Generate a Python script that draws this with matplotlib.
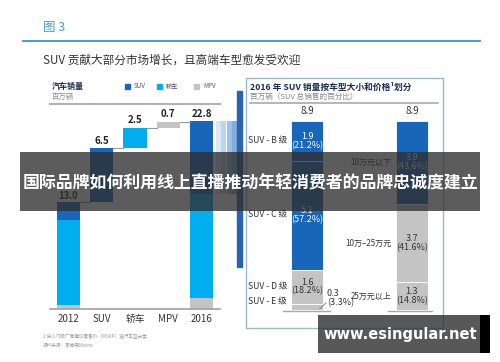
import matplotlib
matplotlib.use('Agg')
import matplotlib.pyplot as plt
from matplotlib.patches import Rectangle

plt.rcParams['font.family'] = ['Noto Sans CJK SC', 'DejaVu Sans']

# left waterfall: 汽车销量, 百万辆
categories = ['2012', 'SUV', '轿车', 'MPV', '2016']
seg_2012 = [2.2, 10.3, 0.5]      # SUV, 轿车, MPV
increments = [6.5, 2.5, 0.7]     # SUV, 轿车, MPV
seg_2016 = [8.9, 12.6, 1.3]
legend_names = ['SUV', '轿车', 'MPV']

# right panel: 2016 SUV split
size_labels = ['SUV - B 级', 'SUV - C 级', 'SUV - D 级', 'SUV - E 级']
size_values = [1.9, 5.1, 1.6, 0.3]
size_share = ['21.2%', '57.2%', '18.2%', '3.3%']
price_labels = ['10万元以下', '10万–25万元', '25万元以上']
price_values = [3.9, 3.7, 1.3]
price_share = ['43.6%', '41.6%', '14.8%']

BLUE = '#1766b9'
CYAN = '#00aeef'
GRAY = '#c4c4c4'
colors = [BLUE, CYAN, GRAY]

W, H = 500, 362
fig = plt.figure(figsize=(5, 3.62), dpi=100)

# ---- left waterfall
axL = fig.add_axes([50 / W, (H - 309) / H, 170 / W, 206 / H])
axL.set_xlim(-0.55, 4.55)
axL.set_ylim(0, 25)
bw = 0.7

def stack(ax, x, vals, cols):
    # bottom to top: MPV, 轿车, SUV
    b = 0
    for v, c in zip(vals[::-1], cols[::-1]):
        ax.bar(x, v, bw, bottom=b, color=c, linewidth=0)
        b += v
    return b

t12 = stack(axL, 0, seg_2012, colors)
axL.text(0, t12 + 0.15, f'{t12:.1f}', ha='center', va='bottom', fontsize=6.8, fontweight='bold', color='#222')
level = t12
levels = [level]
for i, (inc, c) in enumerate(zip(increments, colors)):
    axL.bar(i + 1, inc, bw, bottom=level, color=c, linewidth=0)
    axL.text(i + 1, level + inc + 0.3, f'{inc:.1f}', ha='center', va='bottom', fontsize=7, fontweight='bold', color='#222')
    level += inc
    levels.append(level)
t16 = stack(axL, 4, seg_2016, colors)
axL.text(4, t16 + 0.3, f'{t16:.1f}', ha='center', va='bottom', fontsize=7, fontweight='bold', color='#222')
for i, lv in enumerate(levels):
    axL.plot([i + bw / 2, i + 1 - bw / 2], [lv, lv], color='#9a9a9a', lw=0.8)

# stretched stripes next to the 2016 SUV part
stripe_cols = ['#dbe9f6', '#bcd5ef', '#9dc1e6', '#7faddc']
for k, sc in enumerate(stripe_cols):
    axL.bar(4.42 + k * 0.165, seg_2016[0], 0.15, bottom=t16 - seg_2016[0], color=sc,
            linewidth=0, align='edge', clip_on=False)

axL.set_xticks(range(5))
axL.set_xticklabels(categories, fontsize=7, color='#333')
axL.tick_params(length=0, pad=3.5)
axL.set_yticks([])
for s in ['top', 'left', 'right']:
    axL.spines[s].set_visible(False)
axL.spines['bottom'].set_color('#a0a0a0')
axL.spines['bottom'].set_linewidth(1.2)
axL.patch.set_alpha(0)

# ---- right panel
axR = fig.add_axes([246 / W, (H - 310) / H, 197 / W, 9.5 * 21.24 / H])
axR.set_xlim(-0.581, 1.295)
axR.set_ylim(0, 9.5)
axR.axis('off')
rw = 0.305

def split_bar(x, vals, cols):
    top = sum(vals)
    mids = []
    for v, c in zip(vals, cols):
        axR.bar(x, v, rw, bottom=top - v, color=c, edgecolor='white', linewidth=0.6)
        mids.append(top - v / 2)
        top -= v
    return mids

size_cols = [BLUE, BLUE, GRAY, GRAY]
mids = split_bar(0, size_values, size_cols)
for i, (lab, v, sh, m, c) in enumerate(zip(size_labels, size_values, size_share, mids, size_cols)):
    yl = m if i < 3 else m + 0.22
    axR.text(-0.562, yl, lab, ha='left', va='center', fontsize=6.2, color='#333')
    if i < 3:
        axR.text(0, m, f'{v}\n({sh})', ha='center', va='center', fontsize=6.5,
                 color='white' if c == BLUE else '#333', linespacing=1.0)
    else:
        axR.text(0.19, m + 0.4, f'{v}\n({sh})', ha='left', va='center', fontsize=6.5,
                 color='#333', linespacing=1.0)
        axR.plot([0.12, 0.18], [0.05, 0.33], color='#777', lw=0.6)
axR.text(0, sum(size_values) + 0.25, f'{sum(size_values):.1f}', ha='center', va='bottom', fontsize=7, color='#333')

price_cols = [BLUE, GRAY, GRAY]
mids = split_bar(1, price_values, price_cols)
for lab, v, sh, m, c in zip(price_labels, price_values, price_share, mids, price_cols):
    axR.text(0.8, m, lab, ha='right', va='center', fontsize=5.8, color='#333')
    axR.text(1, m, f'{v}\n({sh})', ha='center', va='center', fontsize=6.5,
             color='white' if c == BLUE else '#333', linespacing=1.0)
axR.text(1, sum(price_values) + 0.25, f'{sum(price_values):.1f}', ha='center', va='bottom', fontsize=7, color='#333')
axR.plot([-0.229, 0.219], [-0.03, -0.03], color='#a8a8a8', lw=1, clip_on=False)
axR.plot([0.771, 1.19], [-0.03, -0.03], color='#a8a8a8', lw=1, clip_on=False)

# ---- overlay: headers, frames, watermark
ov = fig.add_axes([0, 0, 1, 1], zorder=10)
ov.set_xlim(0, W)
ov.set_ylim(H, 0)
ov.axis('off')
ov.patch.set_alpha(0)

ov.text(43, 27, '图 3', fontsize=9, color='#4a9ac8', va='center')
ov.plot([23, 480], [41, 41], color='#3d93c4', lw=1.3)
ov.text(43, 60, 'SUV 贡献大部分市场增长，且高端车型愈发受欢迎', fontsize=8.4, color='#333', va='center')

ov.text(52, 87, '汽车销量', fontsize=5.8, fontweight='bold', color='#1b2d50', va='center')
ov.text(52, 97, '百万辆', fontsize=5.3, color='#888', va='center')
for xs, name, c in zip([125, 157, 194], legend_names, colors):
    ov.add_patch(Rectangle((xs, 84), 5, 5, color=c))
    ov.text(xs + 9, 86.5, name, fontsize=4.5, color='#555', va='center')
ov.plot([50, 220], [104, 104], color='#a9b3bc', lw=1.5)

ov.add_patch(Rectangle((237, 91), 5, 176, color='#2a63b0'))
ov.add_patch(Rectangle((246, 78), 197, 250, fill=False, edgecolor='#9bb8cc', lw=1))
ov.text(250, 87, '2016 年 SUV 销量按车型大小和价格¹划分', fontsize=6.3, fontweight='bold', color='#1b2d50', va='center')
ov.text(250, 97, '百万辆（SUV 总销售的百分比）', fontsize=5.5, color='#888', va='center')
ov.plot([250, 438], [103, 103], color='#a9b3bc', lw=1.3)

ov.text(43, 336, '1 按入门级厂商建议零售价（MSRP）进行车型分类', fontsize=3.3, color='#999', va='center')
ov.text(43, 345, '资料来源：麦肯锡Mview', fontsize=3.3, color='#999', va='center')

ov.add_patch(Rectangle((20, 152), 460, 59, color='#2e2e2e', alpha=0.78, lw=0))
ov.text(250, 183, '国际品牌如何利用线上直播推动年轻消费者的品牌忠诚度建立', fontsize=12.2,
        fontweight='bold', color='white', ha='center', va='center')

ov.add_patch(Rectangle((318, 315), 162, 38, color='#333333', alpha=0.82, lw=0))
ov.add_patch(Rectangle((480, 315), 10, 38, color='black', lw=0))
ov.text(400, 335, 'www.esingular.net', fontsize=10.5, fontweight='bold', color='white',
        ha='center', va='center', family='DejaVu Sans')

fig.savefig('out.png', dpi=100)
